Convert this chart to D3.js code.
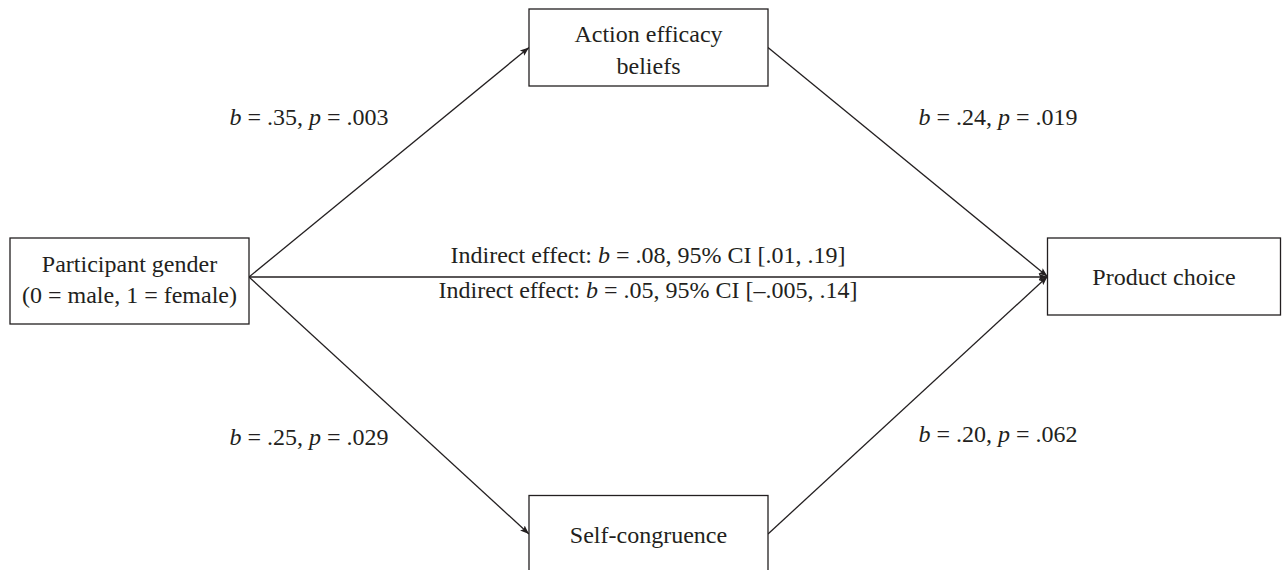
<!DOCTYPE html>
<html>
<head>
<meta charset="utf-8">
<script src="https://cdn.jsdelivr.net/npm/d3@7"></script>
<style>
html,body{margin:0;padding:0;background:#fff;}
svg{display:block;}
text{font-family:"Liberation Serif","Times New Roman",serif;fill:#231f20;}
</style>
</head>
<body>
<svg id="chart" width="1282" height="570"></svg>
<script>
// ---- data ----
const nodeIds = ["gender", "efficacy", "congruence", "choice"];
const nodeLines = [
  ["Participant gender", "(0 = male, 1 = female)"],
  ["Action efficacy", "beliefs"],
  ["Self-congruence"],
  ["Product choice"]
];
const pathFrom = ["gender", "efficacy", "gender", "congruence", "gender"];
const pathTo   = ["efficacy", "choice", "congruence", "choice", "choice"];
const pathB    = [".35", ".24", ".25", ".20", null];
const pathP    = [".003", ".019", ".029", ".062", null];
const indirectB  = [".08", ".05"];
const indirectCI = ["[.01, .19]", "[\u2013.005, .14]"];

// ---- layout ----
const svg = d3.select("#chart");
const ink = "#231f20";
const fs = 24;

const col = d3.scalePoint().domain(["left", "mid", "right"]).range([129.5, 1164]);
const row = d3.scalePoint().domain(["top", "center", "bottom"]).range([47.5, 534]);
const centerRow = 277;

const boxes = {
  gender:     {cx: col("left"),  cy: 281,          w: 239, h: 86, ax: 249, ay: centerRow, ty: 272, lh: 30.5},
  efficacy:   {cx: 648.5,        cy: row("top"),    w: 239, h: 77, ty: 41.5, lh: 32},
  congruence: {cx: 648.5,        cy: row("bottom"), w: 239, h: 77, ty: 543, lh: 32},
  choice:     {cx: col("right"), cy: 276.5,        w: 233, h: 77, ty: 285, lh: 32}
};

const defs = svg.append("defs");
defs.append("marker")
  .attr("id", "arr")
  .attr("viewBox", "0 0 10 10")
  .attr("refX", 10).attr("refY", 5)
  .attr("markerWidth", 9).attr("markerHeight", 9)
  .attr("markerUnits", "userSpaceOnUse")
  .attr("orient", "auto")
  .append("path")
  .attr("d", "M0,1.2 L10,5 L0,8.8 L2,5 Z")
  .attr("fill", ink);

function anchorOut(id) {
  const b = boxes[id];
  if (id === "gender") return [b.ax, b.ay];
  return [b.cx + b.w / 2, b.cy];
}
function anchorIn(id) {
  const b = boxes[id];
  return [b.cx - b.w / 2, b.cy];
}

pathFrom.forEach((f, i) => {
  const s = anchorOut(f), t = anchorIn(pathTo[i]);
  if (pathTo[i] === "choice" && f === "gender") t[1] = centerRow;
  svg.append("line")
    .attr("x1", s[0]).attr("y1", s[1])
    .attr("x2", t[0]).attr("y2", t[1])
    .attr("stroke", ink).attr("stroke-width", 1.3)
    .attr("marker-end", "url(#arr)");
});

nodeIds.forEach((id, i) => {
  const b = boxes[id];
  svg.append("rect")
    .attr("x", b.cx - b.w / 2).attr("y", b.cy - b.h / 2)
    .attr("width", b.w).attr("height", b.h)
    .attr("fill", "#fff").attr("stroke", ink).attr("stroke-width", 1.3);
  nodeLines[i].forEach((ln, j) => {
    svg.append("text")
      .attr("x", b.cx).attr("y", b.ty + j * b.lh)
      .attr("text-anchor", "middle")
      .attr("font-size", fs)
      .text(ln);
  });
});

const labelPos = [
  [309, 125], [998, 125], [309, 445], [998, 442]
];
function coefText(x, y, parts) {
  const t = svg.append("text").attr("x", x).attr("y", y)
    .attr("text-anchor", "middle").attr("font-size", fs);
  parts.forEach(p => {
    t.append("tspan").attr("font-style", p[1] ? "italic" : "normal").text(p[0]);
  });
}
pathB.forEach((b, i) => {
  if (b === null) return;
  coefText(labelPos[i][0], labelPos[i][1], [
    ["b", true], [" = " + b + ", ", false], ["p", true], [" = " + pathP[i], false]
  ]);
});

const indY = [263, 298];
indirectB.forEach((b, i) => {
  coefText(648, indY[i], [
    ["Indirect effect: ", false], ["b", true], [" = " + b + ", 95% CI " + indirectCI[i], false]
  ]);
});
</script>
</body>
</html>
